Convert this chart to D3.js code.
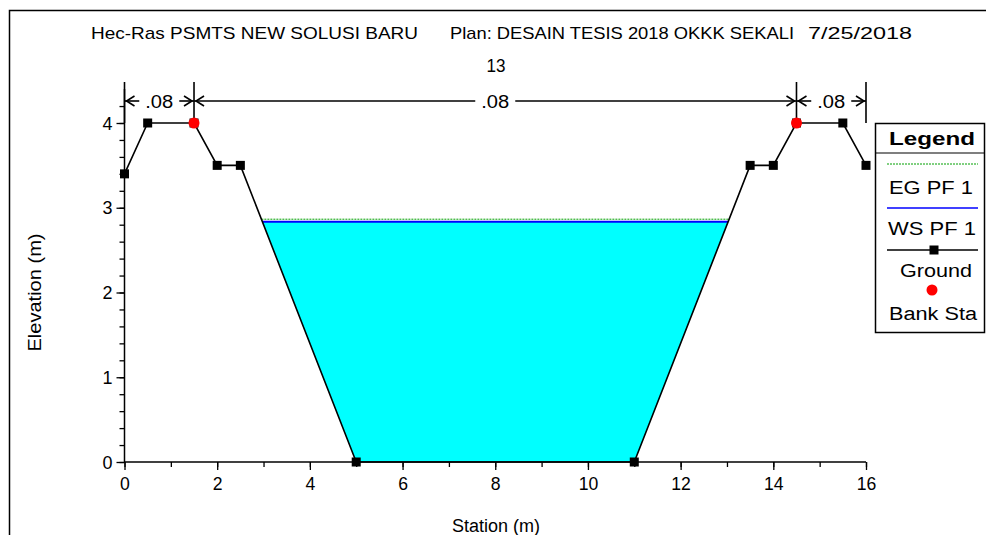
<!DOCTYPE html>
<html><head><meta charset="utf-8">
<script src="https://cdn.jsdelivr.net/npm/d3@7"></script>
<style>body{margin:0;background:#fff}svg{display:block}text{font-family:"Liberation Sans",Arial,sans-serif;fill:#000}</style>
</head><body><div id="c"></div>
<script>
const titleParts = ["Hec-Ras PSMTS NEW SOLUSI BARU", "Plan: DESAIN TESIS 2018 OKKK SEKALI", "7/25/2018"];
const subtitle = "13";
const groundStation = [0, 0.5, 1.5, 2.0, 2.5, 5, 11, 13.5, 14, 14.5, 15.5, 16];
const groundElev    = [3.4, 4.0, 4.0, 3.5, 3.5, 0, 0, 3.5, 3.5, 4.0, 4.0, 3.5];
const bankStation = [1.5, 14.5];
const bankElev = [4.0, 4.0];
const wsElev = 2.835;
const egElev = 2.865;
const manningBreaks = [0, 1.5, 14.5, 16];
const manningN = [".08", ".08", ".08"];
const xTicks = [0, 2, 4, 6, 8, 10, 12, 14, 16];
const yTicks = [0, 1, 2, 3, 4];
const legendTitle = "Legend";
const legendLabels = ["EG PF 1", "WS PF 1", "Ground", "Bank Sta"];

const W = 986, H = 535;
const svg = d3.select("#c").append("svg").attr("width", W).attr("height", H);
const x = d3.scaleLinear().domain([0, 16]).range([124.5, 866]);
const y = d3.scaleLinear().domain([0, 4]).range([462, 123]);

function txt(g, s, tx, ty, opts = {}) {
  const t = g.append("text").attr("x", tx).attr("y", ty).attr("font-size", opts.size || 18)
    .attr("text-anchor", opts.anchor || "middle").text(s);
  if (opts.len) t.attr("textLength", opts.len).attr("lengthAdjust", "spacingAndGlyphs");
  if (opts.bold) t.attr("font-weight", "bold");
  if (opts.transform) t.attr("transform", opts.transform);
  return t;
}

// frame
svg.append("path").attr("d", `M9.5,${H}V10.5H${W}`).attr("fill", "none").attr("stroke", "#000").attr("stroke-width", 1.5);

// titles
const tpos = [[91, 418], [450, 794], [808, 912]];
titleParts.forEach((t, i) => {
  txt(svg, t, tpos[i][0], 38.5, {size: 17, anchor: "start", len: tpos[i][1] - tpos[i][0]});
});
txt(svg, subtitle, 496, 72, {size: 19, len: 19});

// water fill
const ground = groundStation.map((s, i) => [s, groundElev[i]]);
function wetPolygon(ws) {
  const pts = [];
  for (let i = 0; i < ground.length - 1; i++) {
    const [x0, y0] = ground[i], [x1, y1] = ground[i + 1];
    if (y0 <= ws) pts.push([x0, y0]);
    if ((y0 - ws) * (y1 - ws) < 0) {
      const t = (ws - y0) / (y1 - y0);
      pts.push([x0 + t * (x1 - x0), ws]);
    }
  }
  const idx = pts.map((p, i) => p[1] === ws ? i : -1).filter(i => i >= 0);
  return pts.slice(idx[0], idx[idx.length - 1] + 1);
}
const wp = wetPolygon(wsElev);
svg.append("path").attr("d", d3.line().x(d => x(d[0])).y(d => y(d[1]))(wp) + "Z")
  .attr("fill", "#00ffff").attr("stroke", "none");
const wsL = wp[0][0], wsR = wp[wp.length - 1][0];
const ep = wetPolygon(egElev);
svg.append("line").attr("x1", x(ep[0][0])).attr("x2", x(ep[ep.length - 1][0])).attr("y1", y(egElev)).attr("y2", y(egElev))
  .attr("stroke", "#00a000").attr("stroke-width", 1).attr("stroke-dasharray", "2,1");
svg.append("line").attr("x1", x(wsL)).attr("x2", x(wsR)).attr("y1", y(wsElev)).attr("y2", y(wsElev))
  .attr("stroke", "#0000ff").attr("stroke-width", 2);

// axes
const xAx = svg.append("g").attr("transform", `translate(0,${y(0)})`);
xAx.call(d3.axisBottom(x).tickValues(d3.range(0, 17, 1)).tickSize(5).tickFormat(""));
const xAx2 = svg.append("g").attr("transform", `translate(0,${y(0)})`);
xAx2.call(d3.axisBottom(x).tickValues(xTicks).tickSize(8).tickPadding(7).tickFormat(d3.format("d")));
xAx2.selectAll("text").attr("font-size", 19).attr("font-family", "Liberation Sans, Arial").attr("fill", "#000")
  .attr("textLength", d => String(d).length * 9.8).attr("lengthAdjust", "spacingAndGlyphs");

const yAx = svg.append("g").attr("transform", `translate(${x(0)},0)`);
yAx.call(d3.axisLeft(y).tickValues(d3.range(0, 4.3, 0.2)).tickSize(5).tickFormat(""));
const yAx2 = svg.append("g").attr("transform", `translate(${x(0)},0)`);
yAx2.call(d3.axisLeft(y).tickValues(yTicks).tickSize(8).tickPadding(4).tickFormat(d3.format("d")));
yAx2.selectAll("text").attr("font-size", 19).attr("font-family", "Liberation Sans, Arial").attr("fill", "#000")
  .attr("textLength", 10).attr("lengthAdjust", "spacingAndGlyphs");
svg.selectAll(".domain").remove();
svg.selectAll(".tick line").attr("stroke-width", 1.3).attr("stroke", "#000");
svg.append("line").attr("x1", x(0)).attr("x2", x(16)).attr("y1", y(0)).attr("y2", y(0)).attr("stroke", "#000").attr("stroke-width", 1.5);
svg.append("line").attr("x1", x(0)).attr("x2", x(0)).attr("y1", y(0)).attr("y2", y(4.4)).attr("stroke", "#000").attr("stroke-width", 1.5);

txt(svg, "Station (m)", 496, 532, {size: 18, len: 88});
txt(svg, "Elevation (m)", 0, 0, {size: 18, len: 118, transform: `translate(41,${y(2)}) rotate(-90)`});

// manning annotations
const annY = 101;
manningBreaks.forEach(s => {
  svg.append("line").attr("x1", x(s)).attr("x2", x(s)).attr("y1", 82).attr("y2", y(4)).attr("stroke", "#000").attr("stroke-width", 1.6);
});
for (let i = 0; i < manningN.length; i++) {
  const a = x(manningBreaks[i]), b = x(manningBreaks[i + 1]), m = (a + b) / 2;
  const half = 20;
  svg.append("line").attr("x1", a).attr("x2", m - half).attr("y1", annY).attr("y2", annY).attr("stroke", "#000").attr("stroke-width", 1.6);
  svg.append("line").attr("x1", m + half).attr("x2", b).attr("y1", annY).attr("y2", annY).attr("stroke", "#000").attr("stroke-width", 1.6);
  svg.append("path").attr("d", `M${a + 10},${annY - 5}L${a + 2},${annY}L${a + 10},${annY + 5}`).attr("fill", "none").attr("stroke", "#000").attr("stroke-width", 1.6);
  svg.append("path").attr("d", `M${b - 10},${annY - 5}L${b - 2},${annY}L${b - 10},${annY + 5}`).attr("fill", "none").attr("stroke", "#000").attr("stroke-width", 1.6);
  txt(svg, manningN[i], m, annY + 7, {size: 18, len: 28});
}

// ground
svg.append("path").attr("d", d3.line().x(d => x(d[0])).y(d => y(d[1]))(ground))
  .attr("fill", "none").attr("stroke", "#000").attr("stroke-width", 1.6);
svg.selectAll("rect.g").data(ground).enter().append("rect")
  .attr("x", d => x(d[0]) - 4.5).attr("y", d => y(d[1]) - 4.5).attr("width", 9).attr("height", 9).attr("fill", "#000");
svg.selectAll("circle.b").data(bankStation).enter().append("circle")
  .attr("cx", d => x(d)).attr("cy", (d, i) => y(bankElev[i])).attr("r", 5.5).attr("fill", "#ff0000");

// legend
const lg = svg.append("g");
lg.append("rect").attr("x", 875.5).attr("y", 123.5).attr("width", 109).attr("height", 209).attr("fill", "#fff").attr("stroke", "#000").attr("stroke-width", 1.5);
lg.append("line").attr("x1", 875.5).attr("x2", 984.5).attr("y1", 153).attr("y2", 153).attr("stroke", "#000").attr("stroke-width", 1.2);
txt(lg, legendTitle, 932, 145, {size: 18, bold: true, len: 86});
lg.append("line").attr("x1", 887).attr("x2", 978).attr("y1", 164).attr("y2", 164).attr("stroke", "#00a000").attr("stroke-dasharray", "2,1");
txt(lg, legendLabels[0], 931, 193.5, {size: 18, len: 84});
lg.append("line").attr("x1", 887).attr("x2", 978).attr("y1", 208).attr("y2", 208).attr("stroke", "#0000ff").attr("stroke-width", 1.6);
txt(lg, legendLabels[1], 932, 234.5, {size: 18, len: 88});
lg.append("line").attr("x1", 887).attr("x2", 978).attr("y1", 250).attr("y2", 250).attr("stroke", "#000").attr("stroke-width", 1.6);
lg.append("rect").attr("x", 929.5).attr("y", 245.5).attr("width", 9).attr("height", 9).attr("fill", "#000");
txt(lg, legendLabels[2], 936, 276.5, {size: 18, len: 72});
lg.append("circle").attr("cx", 932).attr("cy", 290).attr("r", 5.5).attr("fill", "#ff0000");
txt(lg, legendLabels[3], 933, 319.5, {size: 18, len: 88});
</script></body></html>
